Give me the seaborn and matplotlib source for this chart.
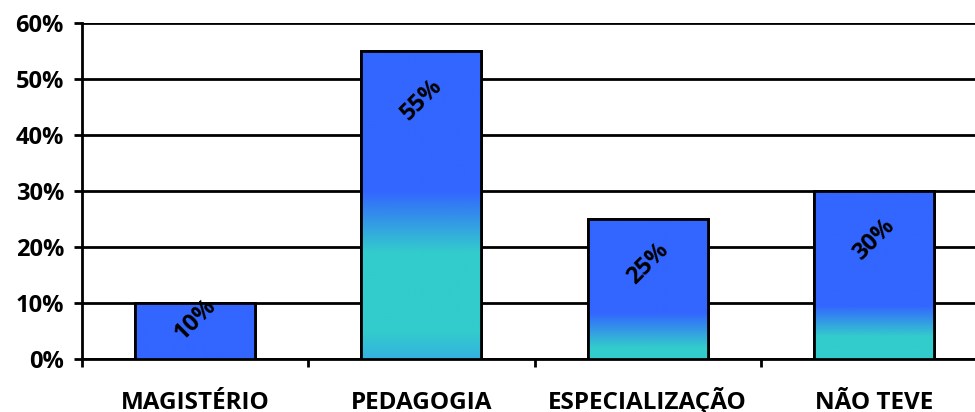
import numpy as np
import pandas as pd
import matplotlib
matplotlib.use("Agg")
import matplotlib.pyplot as plt
import seaborn as sns
from matplotlib.colors import to_rgb
from matplotlib import font_manager as fm

categories = ["MAGISTÉRIO", "PEDAGOGIA", "ESPECIALIZAÇÃO", "NÃO TEVE"]
values = [10, 55, 25, 30]
value_labels = ["10%", "55%", "25%", "30%"]
y_ticks = [0, 10, 20, 30, 40, 50, 60]
y_tick_labels = ["0%", "10%", "20%", "30%", "40%", "50%", "60%"]

BLUE = "#3366FF"
CYAN = "#33CCCC"
# per-bar gradient stops (data units): (y, colour)
grad_stops = [
    [(0, BLUE), (10, BLUE)],
    [(0, "#34B2E0"), (5, CYAN), (19, CYAN), (30, BLUE), (55, BLUE)],
    [(0, CYAN), (2, CYAN), (8.2, BLUE), (25, BLUE)],
    [(0, CYAN), (4, CYAN), (9.5, BLUE), (30, BLUE)],
]
label_y = [7.0, 46.3, 17.1, 21.3]

sns.set_theme(style="white")
fam = "DejaVu Sans"
for cand in ["Open Sans", "Lato", "Noto Sans", "Liberation Sans"]:
    try:
        p = fm.findfont(fm.FontProperties(family=cand, weight="bold"), fallback_to_default=False)
        if "bold" in p.lower():
            fam = cand
            break
    except Exception:
        pass
plt.rcParams['font.family'] = [fam, 'DejaVu Sans']
plt.rcParams['font.weight'] = 'bold'

fig = plt.figure(figsize=(9.75, 4.12), dpi=100)
ax = fig.add_axes([82/975, 1-359/412, (987-82)/975, (359-23)/412])

df = pd.DataFrame({"cat": categories, "val": values})
sns.barplot(data=df, x="cat", y="val", ax=ax, width=0.53, color=BLUE,
            edgecolor="black", linewidth=2, zorder=3, saturation=1)

for patch, stops in zip(list(ax.patches), grad_stops):
    x0, y0 = patch.get_x(), patch.get_y()
    w, h = patch.get_width(), patch.get_height()
    ys = np.linspace(0, h, 300)
    sy = [s[0] for s in stops]
    cols = np.array([to_rgb(s[1]) for s in stops])
    img = np.stack([np.interp(ys, sy, cols[:, k]) for k in range(3)], axis=-1)
    img = img[:, None, :]
    im = ax.imshow(img, extent=[x0, x0 + w, y0, y0 + h], origin="lower",
                   aspect="auto", zorder=3.5, interpolation="bilinear")
    im.set_clip_path(patch)
    ax.add_patch(plt.Rectangle((x0, y0), w, h, fill=False, edgecolor="black",
                               linewidth=2, zorder=4))

ax.set_xlim(-0.5, 3.5)
ax.set_ylim(0, 60)

for i, (lab, ly) in enumerate(zip(value_labels, label_y)):
    ax.text(i, ly, lab, rotation=45, ha="center", va="center",
            fontsize=17, fontweight="bold", color="black", zorder=5)

ax.set_yticks(y_ticks)
ax.set_yticklabels(y_tick_labels, fontsize=17, fontweight="bold")
ax.set_xticks(range(len(categories)))
ax.set_xticklabels(categories, fontsize=17.5, fontweight="bold")
for t in ax.get_xticklabels():
    t.set_va("baseline")
ax.set_xlabel("")
ax.set_ylabel("")

ax.yaxis.grid(True, color="black", linewidth=2, zorder=0)
ax.set_axisbelow(True)
for s in ["top", "right"]:
    ax.spines[s].set_visible(False)
for s in ["left", "bottom"]:
    ax.spines[s].set_color("black")
    ax.spines[s].set_linewidth(2)

ax.tick_params(axis="y", which="major", left=True, length=6, width=2,
               color="black", pad=7, labelcolor="black")
ax.tick_params(axis="x", which="major", bottom=False, length=0, pad=36,
               labelcolor="black")
ax.set_xticks([-0.5, 0.5, 1.5, 2.5, 3.5], minor=True)
ax.tick_params(axis="x", which="minor", bottom=True, length=6, width=2,
               color="black", direction="out")

fig.savefig("out.png", dpi=100)
